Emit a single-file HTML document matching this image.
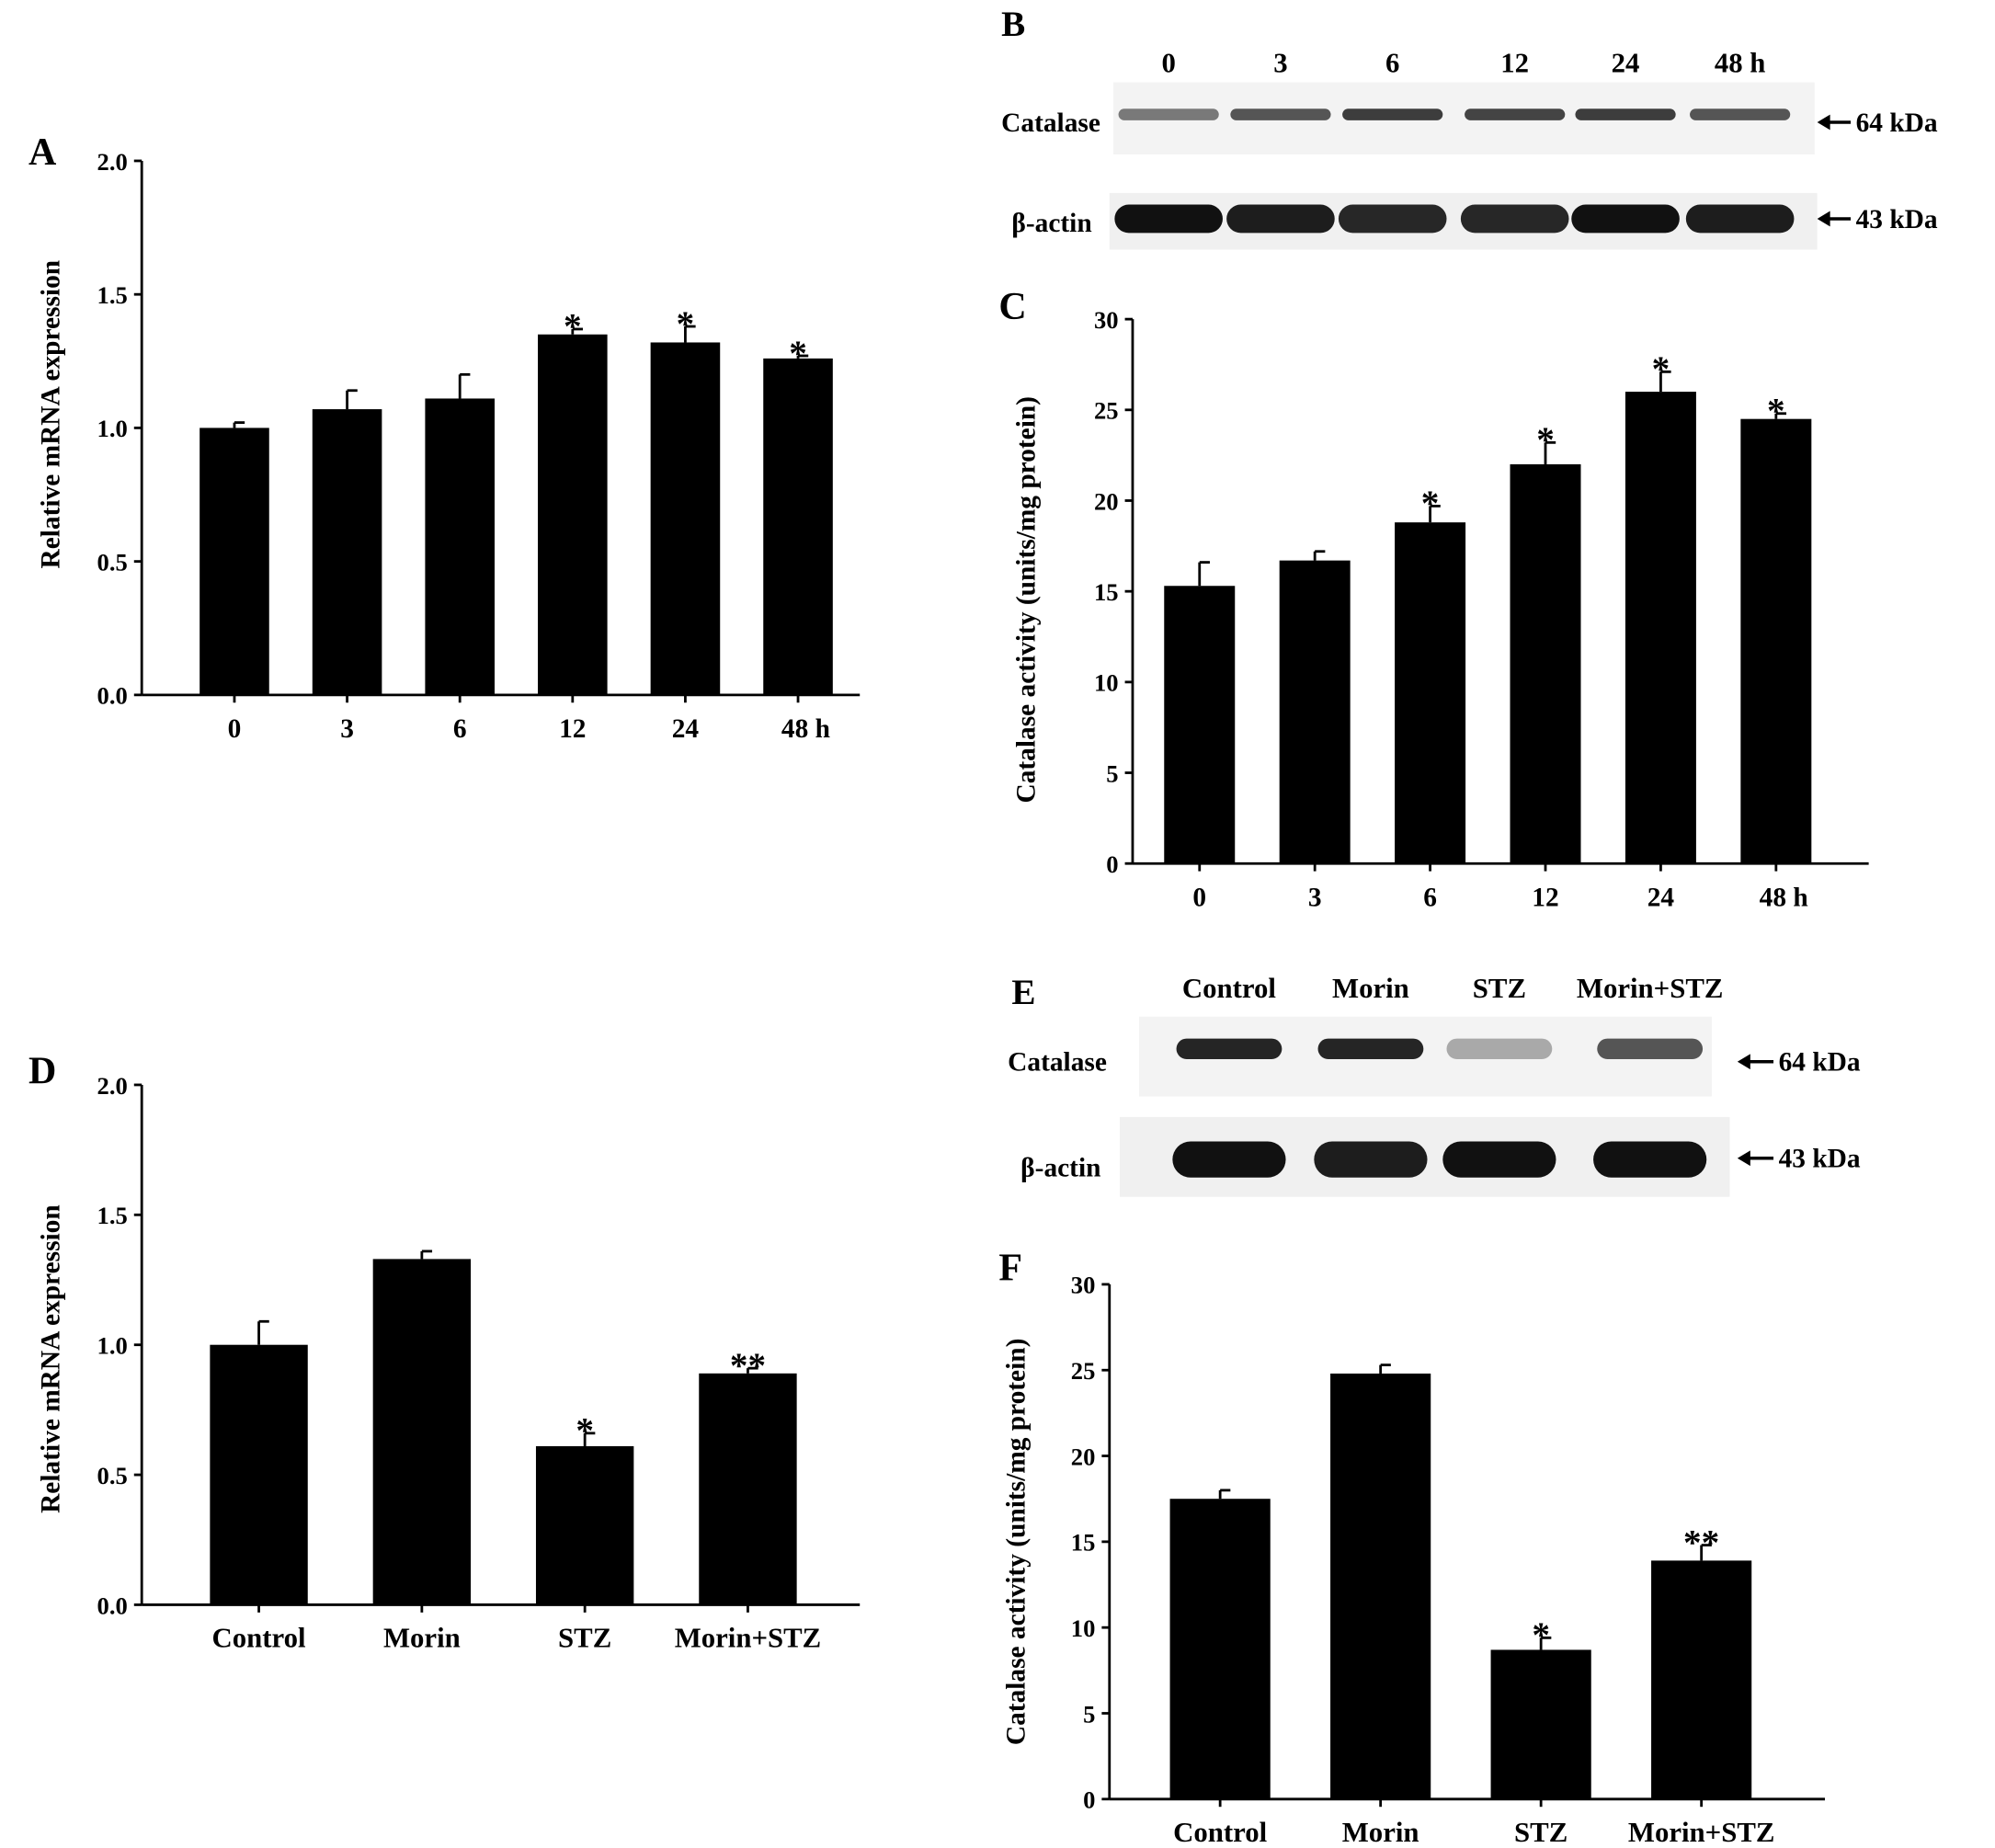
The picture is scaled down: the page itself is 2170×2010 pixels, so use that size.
<!DOCTYPE html>
<html><head><meta charset="utf-8"><style>
html,body{margin:0;padding:0;background:#fff;}
svg{display:block;font-family:"Liberation Serif",serif;font-weight:bold;}
</style></head><body>
<svg id="fig" width="2170" height="2010" viewBox="0 0 1550 1436" xmlns="http://www.w3.org/2000/svg">
<rect width="1550" height="1436" fill="#fff"/>
<g id="blotB">
  <text x="778" y="28" font-size="28">B</text>
  <rect x="865" y="64" width="545" height="56" fill="#f3f3f3"/>
  <rect x="862" y="150" width="550" height="44" fill="#f0f0f0"/>
  <text x="778" y="102" font-size="21">Catalase</text>
  <text x="786" y="180" font-size="21">β-actin</text>
  <g><line x1="1418" y1="95" x2="1438" y2="95" stroke="#000" stroke-width="2.5"/><polygon points="1412,95 1422,89 1422,101" fill="#000"/></g>
  <text x="1442" y="102" font-size="21">64 kDa</text>
  <g><line x1="1418" y1="170" x2="1438" y2="170" stroke="#000" stroke-width="2.5"/><polygon points="1412,170 1422,164 1422,176" fill="#000"/></g>
  <text x="1442" y="177" font-size="21">43 kDa</text>
</g>
<g id="blotE">
  <text x="786" y="780" font-size="28">E</text>
  <rect x="885" y="790" width="445" height="62" fill="#f3f3f3"/>
  <rect x="870" y="868" width="474" height="62" fill="#f0f0f0"/>
  <text x="783" y="832" font-size="21">Catalase</text>
  <text x="793" y="914" font-size="21">β-actin</text>
  <g><line x1="1356" y1="825" x2="1378" y2="825" stroke="#000" stroke-width="2.5"/><polygon points="1350,825 1360,819 1360,831" fill="#000"/></g>
  <text x="1382" y="832" font-size="21">64 kDa</text>
  <g><line x1="1356" y1="900" x2="1378" y2="900" stroke="#000" stroke-width="2.5"/><polygon points="1350,900 1360,894 1360,906" fill="#000"/></g>
  <text x="1382" y="907" font-size="21">43 kDa</text>
</g>
</svg>
<script>
const NS="http://www.w3.org/2000/svg";
const svg=document.getElementById('fig');
// Panel A data
const catsA=["0","3","6","12","24","48 h"];
const valsA=[1.00,1.07,1.11,1.35,1.32,1.26];
const errA=[0.02,0.07,0.09,0.02,0.06,0.01];
const sigA=["","","","*","*","*"];
const ticksA=["0.0","0.5","1.0","1.5","2.0"];
// Panel C data
const catsC=["0","3","6","12","24","48 h"];
const valsC=[15.3,16.7,18.8,22.0,26.0,24.5];
const errC=[1.3,0.5,0.9,1.2,1.1,0.3];
const sigC=["","","*","*","*","*"];
const ticksC=["0","5","10","15","20","25","30"];
// Panel D data
const catsD=["Control","Morin","STZ","Morin+STZ"];
const valsD=[1.00,1.33,0.61,0.89];
const errD=[0.09,0.03,0.05,0.02];
const sigD=["","","*","**"];
const ticksD=["0.0","0.5","1.0","1.5","2.0"];
// Panel F data
const catsF=["Control","Morin","STZ","Morin+STZ"];
const valsF=[17.5,24.8,8.7,13.9];
const errF=[0.5,0.5,0.7,0.9];
const sigF=["","","*","**"];
const ticksF=["0","5","10","15","20","25","30"];
// Blot data (relative band intensity)
const lanesB=["0","3","6","12","24","48 h"];
const catB=[0.5,0.65,0.75,0.72,0.75,0.65];
const actB=[1,0.95,0.9,0.9,1,0.95];
const lanesE=["Control","Morin","STZ","Morin+STZ"];
const catE=[0.85,0.85,0.3,0.65];
const actE=[1,0.95,1,1];

function el(tag,attrs,parent){const e=document.createElementNS(NS,tag);for(const k in attrs)e.setAttribute(k,attrs[k]);(parent||svg).appendChild(e);return e;}

function chart(o){
  const g=el('g',{});
  
  
  const ymax=parseFloat(o.ticks[o.ticks.length-1]);
  const y=v=>o.y0-(v/ymax)*(o.y0-o.y1);
  const x=i=>o.xs[0]+i*(o.xs[1]-o.xs[0])/(o.cats.length-1);
  const lab=el('text',{x:o.lx,y:o.ly,'font-size':30},g);lab.textContent=o.label;
  
  
  el('line',{x1:o.ax,y1:o.y1,x2:o.ax,y2:o.y0,stroke:'#000','stroke-width':2},g);
  el('line',{x1:o.ax,y1:o.y0,x2:o.axEnd,y2:o.y0,stroke:'#000','stroke-width':2},g);
  o.ticks.forEach(t=>{const v=parseFloat(t);const yy=y(v);
    el('line',{x1:o.ax-6,y1:yy,x2:o.ax,y2:yy,stroke:'#000','stroke-width':2},g);
    const tx=el('text',{x:o.ax-11,y:yy+7,'font-size':19,'text-anchor':'end'},g);tx.textContent=t;
    
    
  });
  const tt=el('text',{x:0,y:0,'font-size':21,'text-anchor':'middle',transform:`translate(${o.tx},${o.ty}) rotate(-90)`},g);
  tt.textContent=o.title;
  
  
  o.cats.forEach((c,i)=>{const cx=x(i);const v=o.vals[i],e=o.err[i];
    const b=el('rect',{x:cx-o.bw/2,y:y(v),width:o.bw,height:o.y0-y(v),fill:'#000'},g);
    
    
    el('line',{x1:cx,y1:y(v),x2:cx,y2:y(v+e),stroke:'#000','stroke-width':2},g);
    el('line',{x1:cx,y1:y(v+e),x2:cx+8,y2:y(v+e),stroke:'#000','stroke-width':2},g);
    el('line',{x1:cx,y1:o.y0,x2:cx,y2:o.y0+6,stroke:'#000','stroke-width':2},g);
    const xl=el('text',{x:cx+(c.indexOf(' h')>0?6:0),y:o.y0+33,'font-size':o.xfs,'text-anchor':'middle'},g);xl.textContent=c;
    
    
    if(o.sig[i]){const s=el('text',{x:cx,y:y(v+e)+7,'font-size':28,'text-anchor':'middle'},g);s.textContent=o.sig[i];
      
      }
  });
}
chart({name:'chart-a',label:'A',lx:22,ly:128,cats:catsA,vals:valsA,err:errA,sig:sigA,ticks:ticksA,ax:110,axEnd:668,y0:540,y1:125,xs:[182,620],bw:54,tx:46,ty:322,title:'Relative mRNA expression',xfs:21});
chart({name:'chart-c',label:'C',lx:776,ly:248,cats:catsC,vals:valsC,err:errC,sig:sigC,ticks:ticksC,ax:880,axEnd:1452,y0:671,y1:248,xs:[932,1380],bw:55,tx:804,ty:466,title:'Catalase activity (units/mg protein)',xfs:21});
chart({name:'chart-d',label:'D',lx:22,ly:842,cats:catsD,vals:valsD,err:errD,sig:sigD,ticks:ticksD,ax:110,axEnd:668,y0:1247,y1:843,xs:[201,581],bw:76,tx:46,ty:1056,title:'Relative mRNA expression',xfs:22});
chart({name:'chart-f',label:'F',lx:776,ly:995,cats:catsF,vals:valsF,err:errF,sig:sigF,ticks:ticksF,ax:862,axEnd:1418,y0:1398,y1:998,xs:[948,1322],bw:78,tx:796,ty:1198,title:'Catalase activity (units/mg protein)',xfs:22});

function blot(gid,lanes,cat,act,lx,lw,laneLabY,catY,actY,catH,actH){
  const g=document.getElementById(gid);
  lanes.forEach((l,i)=>{const cx=lx[i];
    const t=el('text',{x:cx,y:laneLabY,'font-size':22,'text-anchor':'middle'},g);t.textContent=l;
    
    
    const c=el('rect',{x:cx-lw/2,y:catY-catH/2,width:lw,height:catH,rx:catH/2,fill:'#000','fill-opacity':cat[i]},g);
    
    
    const a=el('rect',{x:cx-lw/2-3,y:actY-actH/2,width:lw+6,height:actH,rx:actH/2,fill:'#111','fill-opacity':act[i]},g);
    
    
  });
}
blot('blotB',lanesB,catB,actB,[908,995,1082,1177,1263,1352],78,56,89,170,9,22);
blot('blotE',lanesE,catE,actE,[955,1065,1165,1282],82,775,815,901,16,28);
</script>
</body></html>
